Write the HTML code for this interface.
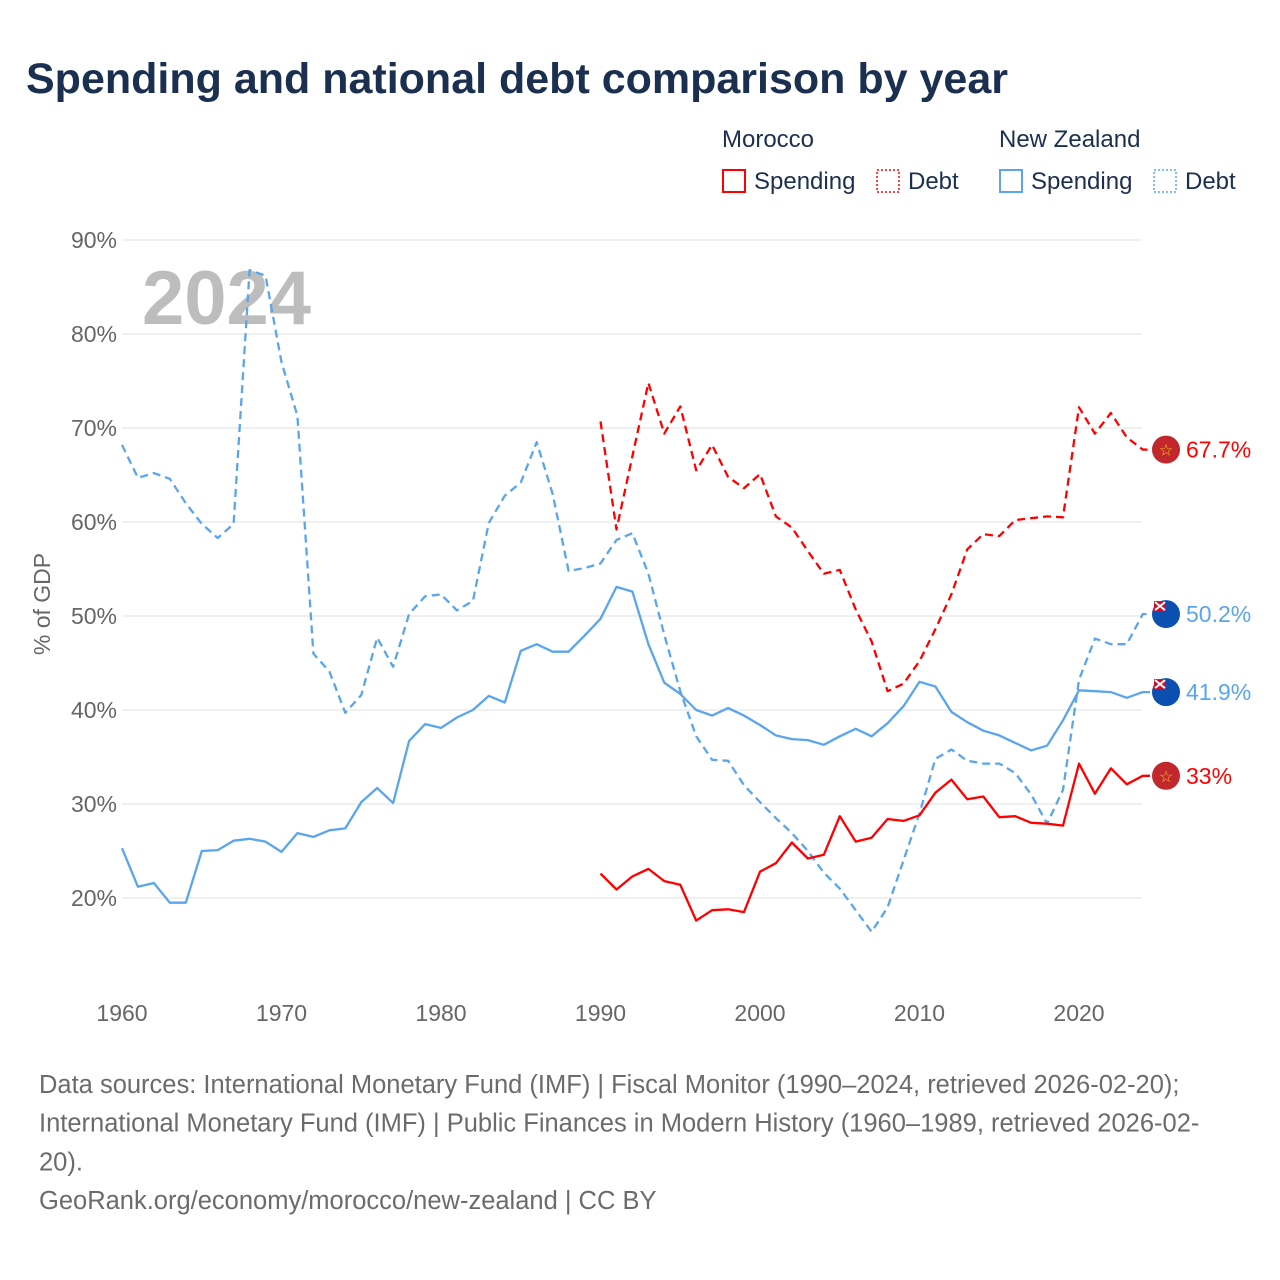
<!DOCTYPE html>
<html><head><meta charset="utf-8">
<style>
body{margin:0;background:#fff;font-family:"Liberation Sans",sans-serif;}
#wrap{position:relative;width:1280px;height:1280px;overflow:hidden;}
</style></head>
<body>
<div id="wrap">
<svg id="chart" width="1280" height="1280"></svg>
</div>
<script>
const nzYears = []; for (let y = 1960; y <= 2024; y++) nzYears.push(y);
const maYears = []; for (let y = 1990; y <= 2024; y++) maYears.push(y);
const nzDebt = [68.2,64.7,65.2,64.6,62,59.8,58.3,59.8,86.8,86.2,77,71.3,46,44.1,39.7,41.6,47.7,44.6,50.2,52.1,52.3,50.6,51.6,59.9,62.8,64.2,68.5,63,54.8,55.1,55.6,58.1,58.8,54.5,48,42,37.2,34.7,34.6,32,30.2,28.5,26.9,25,22.7,21,18.7,16.4,19,24,29,34.8,35.8,34.6,34.3,34.3,33.3,31,27.9,31.5,43.2,47.6,47,47,50.2];
const nzSpending = [25.3,21.2,21.6,19.5,19.5,25,25.1,26.1,26.3,26,24.9,26.9,26.5,27.2,27.4,30.2,31.7,30.1,36.7,38.5,38.1,39.2,40,41.5,40.8,46.3,47,46.2,46.2,47.9,49.7,53.1,52.6,47,42.9,41.7,40,39.4,40.2,39.4,38.4,37.3,36.9,36.8,36.3,37.2,38,37.2,38.6,40.4,43,42.5,39.8,38.7,37.8,37.3,36.5,35.7,36.2,38.9,42.1,42,41.9,41.3,41.9];
const maDebt = [70.7,59.2,67,74.8,69.4,72.3,65.5,68.2,64.8,63.6,65.1,60.6,59.4,56.9,54.5,54.9,50.7,47.3,42,42.8,45.2,48.6,52.3,57.1,58.7,58.5,60.2,60.4,60.6,60.5,72.2,69.4,71.6,69,67.7];
const maSpending = [22.6,20.9,22.3,23.1,21.8,21.4,17.6,18.7,18.8,18.5,22.8,23.7,25.9,24.2,24.6,28.7,26,26.4,28.4,28.2,28.8,31.2,32.6,30.5,30.8,28.6,28.7,28,27.9,27.7,34.3,31.1,33.8,32.1,33];
const yTicks = [20,30,40,50,60,70,80,90];
const xTicks = [1960,1970,1980,1990,2000,2010,2020];

const NS='http://www.w3.org/2000/svg';
const svg=document.getElementById('chart');
const X=y=>122+(y-1960)*15.95;
const Y=v=>240+(90-v)*9.4;
function el(tag,attrs,parent){const e=document.createElementNS(NS,tag);for(const k in attrs)e.setAttribute(k,attrs[k]);(parent||svg).appendChild(e);return e;}
function txt(s,attrs){const t=el('text',attrs);t.textContent=s;return t;}

let t=txt('Spending and national debt comparison by year',{x:26,y:93,'font-size':43,'font-weight':'bold',fill:'#1b2f50'});



yTicks.forEach(v=>{
  const g=el('line',{x1:122,x2:1142,y1:Y(v),y2:Y(v),stroke:'#e6e6e6','stroke-width':1.2});
  
  
  const l=txt(v+'%',{x:117,y:Y(v)+8,'font-size':23,fill:'#666','text-anchor':'end'});
  
  
});
xTicks.forEach(yr=>{
  const l=txt(String(yr),{x:X(yr),y:1021,'font-size':23,fill:'#666','text-anchor':'middle'});
  
  
});
const yt=txt('% of GDP',{x:0,y:0,'font-size':23,fill:'#666','text-anchor':'middle',transform:'translate(50,604) rotate(-90)'});



const yr=txt('2024',{x:142,y:324,'font-size':76,'font-weight':'bold',fill:'#bdbdbd'});



function series(years,vals,color,dash,name){
  let d=years.map((y,i)=>(i?'L':'M')+X(y).toFixed(1)+' '+Y(vals[i]).toFixed(1)).join(' ');
  d+=' L1150 '+Y(vals[vals.length-1]).toFixed(1);
  const p=el('path',{d,fill:'none',stroke:color,'stroke-width':2.3,'stroke-linejoin':'round'});
  if(dash)p.setAttribute('stroke-dasharray','8 5');
  
  
}
series(nzYears,nzDebt,'#5aa5ee',true,'nz-debt-line');
series(nzYears,nzSpending,'#5aa5ee',false,'nz-spending-line');
series(maYears,maDebt,'#ff0000',true,'morocco-debt-line');
series(maYears,maSpending,'#ff0000',false,'morocco-spending-line');

function endMarker(v,country,color,name){
  const cy=Y(v);
  const g=el('g',{});
  
  
  if(country==='ma'){
    el('circle',{cx:1166,cy,r:14,fill:'#c1272d'},g);
    const s=el('text',{x:1166,y:cy+6,'font-size':16,fill:'#f5c518','text-anchor':'middle'},g);s.textContent='☆';
  } else {
    el('circle',{cx:1166,cy,r:14,fill:'#0b4fb0'},g);
    el('rect',{x:1154,y:cy-13,width:12,height:10,fill:'#c8102e'},g);
    el('path',{d:`M1155 ${cy-12} L1165 ${cy-4} M1165 ${cy-12} L1155 ${cy-4}`,stroke:'#fff','stroke-width':2},g);
  }
  const l=txt((Math.round(v*10)/10)+'%',{x:1186,y:cy+8,'font-size':23,fill:color});
  
  
}
endMarker(maDebt[maDebt.length-1],'ma','#ff0000','morocco-debt');
endMarker(nzDebt[nzDebt.length-1],'nz','#5aa5ee','nz-debt');
endMarker(nzSpending[nzSpending.length-1],'nz','#5aa5ee','nz-spending');
endMarker(maSpending[maSpending.length-1],'ma','#ff0000','morocco-spending');

function legTitle(s,x,name){const l=txt(s,{x,y:147,'font-size':24,fill:'#1b2f50'});}
legTitle('Morocco',722,'legend-title-morocco');
legTitle('New Zealand',999,'legend-title-nz');
function legEntry(x,color,dashed,label,name){
  const g=el('g',{});
  
  
  const r=el('rect',{x,y:170,width:22,height:22,fill:'none',stroke:color,'stroke-width':dashed?1.5:2},g);
  if(dashed)r.setAttribute('stroke-dasharray','2 2');
  const l=el('text',{x:x+31,y:189,'font-size':24,fill:'#1b2f50'},g);l.textContent=label;
}
legEntry(723,'#ff0000',false,'Spending','legend-morocco-spending');
legEntry(877,'#ff0000',true,'Debt','legend-morocco-debt');
legEntry(1000,'#5aa5ee',false,'Spending','legend-nz-spending');
legEntry(1154,'#5aa5ee',true,'Debt','legend-nz-debt');

const foot=['Data sources: International Monetary Fund (IMF) | Fiscal Monitor (1990–2024, retrieved 2026-02-20);','International Monetary Fund (IMF) | Public Finances in Modern History (1960–1989, retrieved 2026-02-','20).','GeoRank.org/economy/morocco/new-zealand | CC BY'];
foot.forEach((s,i)=>{const l=txt(s,{x:39,y:1093+i*38.7,'font-size':25.5,fill:'#6b6b6b'});});
</script>
</body></html>
